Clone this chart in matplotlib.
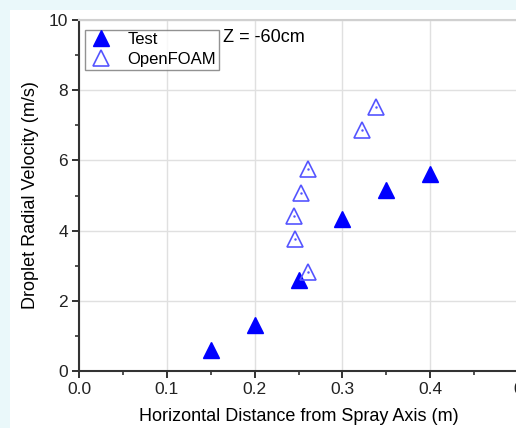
import matplotlib.pyplot as plt
from matplotlib.patches import Rectangle
from matplotlib.ticker import MultipleLocator

plt.rcParams['font.family'] = ['Liberation Sans', 'DejaVu Sans']

# Test data (filled triangles)
test_x = [0.15, 0.20, 0.25, 0.30, 0.35, 0.40]
test_v = [0.60, 1.30, 2.59, 4.33, 5.16, 5.61]

# OpenFOAM data (open triangles)
foam_x = [0.261, 0.246, 0.245, 0.253, 0.261, 0.322, 0.338]
foam_v = [2.83, 3.75, 4.42, 5.06, 5.75, 6.87, 7.52]

fig = plt.figure(figsize=(5.16, 4.28), dpi=100, facecolor='#eaf8fa')
# white slide area behind the plot
bg = Rectangle((10 / 516, 0), 1, 1 - 10 / 428, transform=fig.transFigure,
               facecolor='white', edgecolor='none', zorder=-10)
fig.add_artist(bg)

ax = fig.add_axes([79 / 516, 57 / 428, 439 / 516, 351 / 428])
ax.set_facecolor('white')

ax.plot(test_x, test_v, linestyle='none', marker='^', ms=12, color='#0000ff',
        mec='#0000ff', label='Test', zorder=3)
ax.plot(foam_x, foam_v, linestyle='none', marker='^', ms=12, mfc='none',
        mec='#5555ff', mew=1.2, label='OpenFOAM', zorder=3)
# little centre dots of the open markers
ax.plot(foam_x, foam_v, linestyle='none', marker='.', ms=1.5, color='#5555ff', zorder=3)

ax.set_xlim(0, 0.5)
ax.set_ylim(0, 10)
ax.xaxis.set_minor_locator(MultipleLocator(0.05))
ax.yaxis.set_major_locator(MultipleLocator(2))
ax.yaxis.set_minor_locator(MultipleLocator(1))
ax.set_xticks([0, 0.1, 0.2, 0.3, 0.4, 0.5])
ax.set_xticklabels(['0.0', '0.1', '0.2', '0.3', '0.4', '0'])
ax.tick_params(which='major', direction='out', length=5, width=1.3, labelsize=12.5,
               colors='#222222', pad=3)
ax.tick_params(which='minor', direction='out', length=3, width=1.1, colors='#222222')
ax.grid(True, which='major', color='#e0e0e0', lw=1)

for s in ['left', 'bottom']:
    ax.spines[s].set_color('#333333')
    ax.spines[s].set_linewidth(1.5)
ax.spines['top'].set_color('#d0d0d0')
ax.spines['top'].set_linewidth(1.5)
ax.spines['right'].set_visible(False)

ax.set_xlabel('Horizontal Distance from Spray Axis (m)', fontsize=13, labelpad=8)
ax.set_ylabel('Droplet Radial Velocity (m/s)', fontsize=13, labelpad=7)

leg = ax.legend(loc='upper left', bbox_to_anchor=(0.006, 0.982), fontsize=12,
                frameon=True, fancybox=False, handletextpad=0.8, borderpad=0.15,
                labelspacing=0.3, handlelength=1.6, borderaxespad=0.2)
leg.get_frame().set_edgecolor('#777777')
leg.get_frame().set_linewidth(1)

ax.text(0.164, 9.49, 'Z = -60cm', fontsize=13, va='center', ha='left')

plt.savefig('out.png', dpi=100, facecolor=fig.get_facecolor())
